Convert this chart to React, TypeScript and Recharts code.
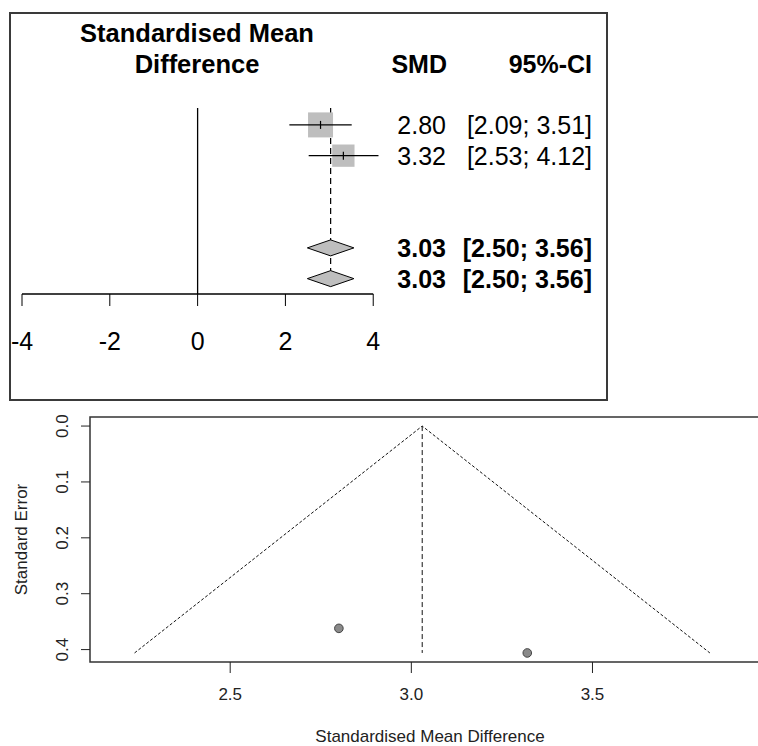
import { ScatterChart, Scatter, XAxis, YAxis, ReferenceLine, ReferenceArea } from "recharts";

const FONT = '"Liberation Sans", Arial, Helvetica, sans-serif';

// studies
const studySmd = [2.8, 3.32];
const studyLow = [2.09, 2.53];
const studyHigh = [3.51, 4.12];
const studyWeight = [55.7, 44.3];
const studySe = [0.362, 0.406];
const studyRows = [1, 2];

// pooled (fixed, random)
const pooledSmd = [3.03, 3.03];
const pooledLow = [2.5, 2.5];
const pooledHigh = [3.56, 3.56];
const pooledRows = [5, 6];

// forest axis
const forestTicks = [-4, -2, 0, 2, 4];
const forestDomainX = [-4, 4.2];
const forestDomainY = [0.45, 6.5];

// funnel
const funnelX = [2.236, 3.03, 3.824];
const funnelSe = [0.406, 0, 0.406];
const funnelTicksX = [2.5, 3.0, 3.5];
const funnelTicksY = [0, 0.1, 0.2, 0.3, 0.4];
const funnelDomainX = [2.113, 3.99];
const funnelDomainY = [-0.0162, 0.4222];

const fmt = (v: number) => v.toFixed(2);

const studyData = studySmd.map((v, i) => ({
  x: v,
  y: studyRows[i],
  low: studyLow[i],
  high: studyHigh[i],
  w: studyWeight[i],
}));

const ciData = studySmd.map((_, i) => [
  { x: studyLow[i], y: studyRows[i] },
  { x: studyHigh[i], y: studyRows[i] },
]);

const diamondData = pooledSmd.map((v, i) => [
  { x: pooledLow[i], y: pooledRows[i] },
  { x: v, y: pooledRows[i] },
  { x: pooledHigh[i], y: pooledRows[i] },
]);

const pooledLine = [
  { x: pooledSmd[0], y: forestDomainY[0] },
  { x: pooledSmd[0], y: pooledRows[1] },
];

const funnelData = funnelX.map((x, i) => ({ x, y: funnelSe[i] }));
const centerData = [
  { x: pooledSmd[1], y: 0 },
  { x: pooledSmd[1], y: Math.max(...funnelSe) },
];
const pointData = studySmd.map((x, i) => ({ x, y: studySe[i] }));

const Empty = () => <g />;

function StudySquare(props: any) {
  const { cx, cy, payload } = props;
  const s = 33.5 * Math.sqrt(payload.w / 100);
  return (
    <g>
      <rect x={cx - s / 2} y={cy - s / 2} width={s} height={s} fill="#bebebe" />
      <line x1={cx} x2={cx} y1={cy - 4} y2={cy + 4} stroke="#000" strokeWidth={1.2} />
      <text x={436} y={cy + 9} textAnchor="end" fontSize={25} fontFamily={FONT} fill="#000">
        {fmt(payload.x)}
      </text>
      <text x={582} y={cy + 9} textAnchor="end" fontSize={25} fontFamily={FONT} fill="#000">
        {`[${fmt(payload.low)}; ${fmt(payload.high)}]`}
      </text>
    </g>
  );
}

function makeDiamond(i: number) {
  return (p: any) => {
    const [a, b, c] = p.points;
    const h = 8;
    return (
      <g>
        <polygon
          points={`${a.x},${a.y} ${b.x},${b.y - h} ${c.x},${c.y} ${b.x},${b.y + h}`}
          fill="#bebebe"
          stroke="#000"
          strokeWidth={1}
        />
        <text x={436} y={b.y + 9} textAnchor="end" fontSize={25} fontWeight="bold" fontFamily={FONT} fill="#000">
          {fmt(pooledSmd[i])}
        </text>
        <text x={582} y={b.y + 9} textAnchor="end" fontSize={25} fontWeight="bold" fontFamily={FONT} fill="#000">
          {`[${fmt(pooledLow[i])}; ${fmt(pooledHigh[i])}]`}
        </text>
      </g>
    );
  };
}

function ForestPlot() {
  return (
    <ScatterChart width={597} height={386} margin={{ top: 95, right: 225, bottom: 45, left: 12 }}>
      <XAxis
        type="number"
        dataKey="x"
        domain={forestDomainX}
        ticks={forestTicks}
        axisLine={false}
        tickSize={12}
        tickMargin={26}
        height={60}
        stroke="#000"
        tick={{ fontSize: 25, fill: "#000", fontFamily: FONT }}
      />
      <YAxis type="number" dataKey="y" domain={forestDomainY} reversed hide />
      <ReferenceLine x={0} stroke="#000" strokeWidth={1.3} />
      <ReferenceLine
        segment={[
          { x: forestTicks[0], y: forestDomainY[1] },
          { x: forestTicks[forestTicks.length - 1], y: forestDomainY[1] },
        ]}
        stroke="#000"
        strokeWidth={1.3}
      />
      <Scatter
        data={pooledLine}
        shape={Empty}
        line={{ stroke: "#000", strokeWidth: 1.2, strokeDasharray: "6 4" }}
        isAnimationActive={false}
      />
      <Scatter data={studyData} shape={StudySquare} isAnimationActive={false} />
      {ciData.map((d, i) => (
        <Scatter
          key={`ci${i}`}
          data={d}
          shape={Empty}
          line={{ stroke: "#000", strokeWidth: 1.3 }}
          isAnimationActive={false}
        />
      ))}
      {diamondData.map((d, i) => (
        <Scatter key={`dm${i}`} data={d} shape={Empty} line={makeDiamond(i)} isAnimationActive={false} />
      ))}
    </ScatterChart>
  );
}

function YTick(props: any) {
  const { x, y, payload } = props;
  return (
    <text
      x={x}
      y={y}
      transform={`rotate(-90 ${x} ${y})`}
      textAnchor="middle"
      fontSize={17}
      fontFamily={FONT}
      fill="#222"
    >
      {payload.value.toFixed(1)}
    </text>
  );
}

function FunnelPlot() {
  return (
    <ScatterChart width={770} height={346} margin={{ top: 17, right: 0, bottom: 0, left: 0 }}>
      <XAxis
        type="number"
        dataKey="x"
        domain={funnelDomainX}
        ticks={funnelTicksX}
        tickFormatter={(v: number) => v.toFixed(1)}
        axisLine={false}
        tickSize={11}
        tickMargin={15}
        height={84}
        stroke="#222"
        tick={{ fontSize: 17, fill: "#222", fontFamily: FONT }}
        label={(p: any) => {
          const vb = p.viewBox;
          return (
            <text x={vb.x + vb.width / 2} y={vb.y + 80} textAnchor="middle" fontSize={17} fontFamily={FONT} fill="#222">
              Standardised Mean Difference
            </text>
          );
        }}
      />
      <YAxis
        type="number"
        dataKey="y"
        reversed
        domain={funnelDomainY}
        ticks={funnelTicksY}
        width={90}
        axisLine={false}
        tickSize={9}
        tickMargin={13}
        stroke="#222"
        tick={<YTick />}
        label={(p: any) => {
          const vb = p.viewBox;
          const cy = vb.y + vb.height / 2;
          const tx = vb.x + 27;
          return (
            <text x={tx} y={cy} transform={`rotate(-90 ${tx} ${cy})`} textAnchor="middle" fontSize={17} fontFamily={FONT} fill="#222">
              Standard Error
            </text>
          );
        }}
      />
      <ReferenceArea
        x1={funnelDomainX[0]}
        x2={funnelDomainX[1]}
        y1={funnelDomainY[0]}
        y2={funnelDomainY[1]}
        fill="none"
        fillOpacity={0}
        stroke="#333"
        strokeWidth={1.5}
      />
      <Scatter
        data={funnelData}
        shape={Empty}
        line={{ stroke: "#111", strokeWidth: 1, strokeDasharray: "3 2" }}
        isAnimationActive={false}
      />
      <Scatter
        data={centerData}
        shape={Empty}
        line={{ stroke: "#111", strokeWidth: 1, strokeDasharray: "5 3" }}
        isAnimationActive={false}
      />
      <Scatter
        data={pointData}
        shape={(p: any) => <circle cx={p.cx} cy={p.cy} r={4.3} fill="#8a8a8a" stroke="#444" strokeWidth={1} />}
        isAnimationActive={false}
      />
    </ScatterChart>
  );
}

export default function App() {
  return (
    <div
      style={{
        position: "absolute",
        left: 0,
        top: 0,
        width: 758,
        height: 746,
        overflow: "hidden",
        background: "#fff",
        fontFamily: FONT,
      }}
    >
      <div
        style={{
          position: "absolute",
          left: 9,
          top: 12,
          width: 599,
          height: 389,
          border: "2px solid #3a3a3a",
          boxSizing: "border-box",
        }}
      />
      <div style={{ position: "absolute", left: 10, top: 13 }}>
        <ForestPlot />
      </div>
      <svg
        width={758}
        height={120}
        style={{ position: "absolute", left: 0, top: 0, pointerEvents: "none" }}
      >
        <text x={197} y={42} textAnchor="middle" fontSize={25.5} fontWeight="bold" fontFamily={FONT} fill="#000">
          Standardised Mean
        </text>
        <text x={197} y={73} textAnchor="middle" fontSize={25.5} fontWeight="bold" fontFamily={FONT} fill="#000">
          Difference
        </text>
        <text x={447} y={73} textAnchor="end" fontSize={25} fontWeight="bold" fontFamily={FONT} fill="#000">
          SMD
        </text>
        <text x={592} y={73} textAnchor="end" fontSize={25} fontWeight="bold" fontFamily={FONT} fill="#000">
          95%-CI
        </text>
      </svg>
      <div style={{ position: "absolute", left: 0, top: 400 }}>
        <FunnelPlot />
      </div>
    </div>
  );
}
